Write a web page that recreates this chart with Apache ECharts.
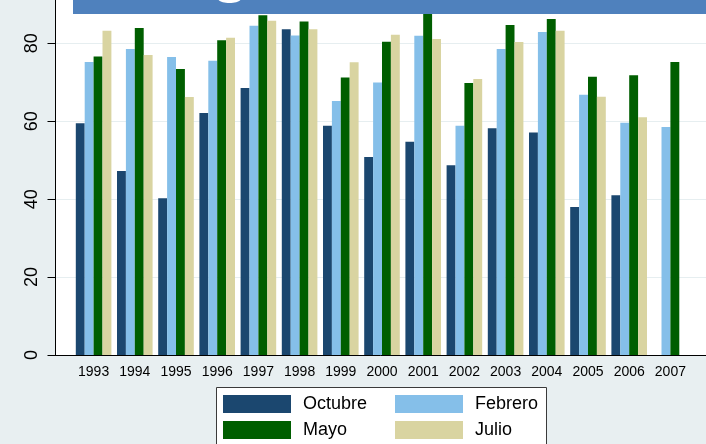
<!DOCTYPE html>
<html>
<head>
<meta charset="utf-8">
<script src="https://cdn.jsdelivr.net/npm/echarts@6/dist/echarts.min.js"></script>
<style>
  html, body { margin: 0; padding: 0; }
  #chart { width: 706px; height: 444px; }
</style>
</head>
<body>
<div id="chart"></div>
<script>
// datos
const years = ['1993', '1994', '1995', '1996', '1997', '1998', '1999', '2000',
  '2001', '2002', '2003', '2004', '2005', '2006', '2007']
const octubre = [59.5, 47.2, 40.2, 62.1, 68.5, 83.6, 58.8, 50.8, 54.7, 48.7, 58.2, 57.1, 38.0, 41.0, null]
const febrero = [75.2, 78.5, 76.5, 75.5, 84.5, 82.0, 65.2, 69.9, 81.9, 58.8, 78.5, 82.9, 66.8, 59.6, 58.5]
const mayo = [76.6, 83.9, 73.4, 80.8, 87.2, 85.6, 71.2, 80.4, 88.0, 69.8, 84.7, 86.2, 71.4, 71.8, 75.2]
const julio = [83.2, 77.0, 66.2, 81.4, 85.8, 83.6, 75.1, 82.2, 81.1, 70.8, 80.3, 83.2, 66.3, 61.0, null]
const yTicks = [0, 20, 40, 60, 80]

const colors = {
  Octubre: '#1b476f',
  Febrero: '#85bfe9',
  Mayo: '#005e00',
  Julio: '#d9d4a1'
}

const chart = echarts.init(document.getElementById('chart'))

const font = 'Liberation Sans, Arial, sans-serif'
const yMax = 91.1

const bar = (name, data) => ({
  name,
  type: 'bar',
  xAxisIndex: 1,
  yAxisIndex: 1,
  data,
  barGap: '0%',
  barCategoryGap: '13.6%',
  itemStyle: { color: colors[name] }
})

const legendBase = {
  orient: 'vertical',
  icon: 'rect',
  itemWidth: 68,
  itemHeight: 18,
  itemGap: 8,
  padding: 0,
  selectedMode: false,
  z: 20,
  textStyle: { fontSize: 18, color: '#000', fontFamily: font, padding: [0, 0, 0, 7] }
}

chart.setOption({
  backgroundColor: '#e8eff1',
  animation: false,
  grid: [
    { left: 55.5, right: 0, top: 0, bottom: 89, show: true, backgroundColor: '#fff', borderWidth: 0 },
    { left: 73, right: 15, top: 0, bottom: 89 }
  ],
  xAxis: [
    {
      type: 'value', gridIndex: 0, min: 0, max: 1,
      axisLine: { show: true, lineStyle: { color: '#000', width: 1 } },
      axisTick: { show: false }, axisLabel: { show: false }, splitLine: { show: false }
    },
    {
      type: 'category', gridIndex: 1, data: years,
      axisLine: { show: false }, axisTick: { show: false },
      axisLabel: { fontSize: 14, color: '#000', fontFamily: font, margin: 10, interval: 0 }
    }
  ],
  yAxis: [
    {
      type: 'value', gridIndex: 0, min: 0, max: yMax, interval: 20,
      axisLine: { show: true, lineStyle: { color: '#000', width: 1 } },
      axisTick: { show: true, length: 8, lineStyle: { color: '#000' }, customValues: yTicks },
      axisLabel: {
        rotate: 90, fontSize: 18, color: '#000', fontFamily: font, margin: 14,
        customValues: yTicks
      },
      splitLine: { show: true, lineStyle: { color: '#e6eef0', width: 1 } }
    },
    {
      type: 'value', gridIndex: 1, min: 0, max: yMax, show: false
    }
  ],
  legend: [
    Object.assign({}, legendBase, { left: 223, top: 395, data: ['Octubre', 'Mayo'] }),
    Object.assign({}, legendBase, { left: 395, top: 395, data: ['Febrero', 'Julio'] })
  ],
  graphic: [
    {
      type: 'rect', z: 1,
      shape: { x: 216.5, y: 387.5, width: 330, height: 70 },
      style: { fill: '#fff', stroke: '#3a3a3a', lineWidth: 1 }
    },
    {
      type: 'rect', z: 100,
      shape: { x: 73, y: 0, width: 633, height: 14 },
      style: { fill: '#4f81bd' }
    },
    {
      type: 'ellipse', z: 101,
      shape: { cx: 229.5, cy: -1.5, rx: 11.5, ry: 4.5 },
      style: { fill: '#fff' }
    }
  ],
  series: [
    bar('Octubre', octubre),
    bar('Febrero', febrero),
    bar('Mayo', mayo),
    bar('Julio', julio)
  ]
})
</script>
</body>
</html>
